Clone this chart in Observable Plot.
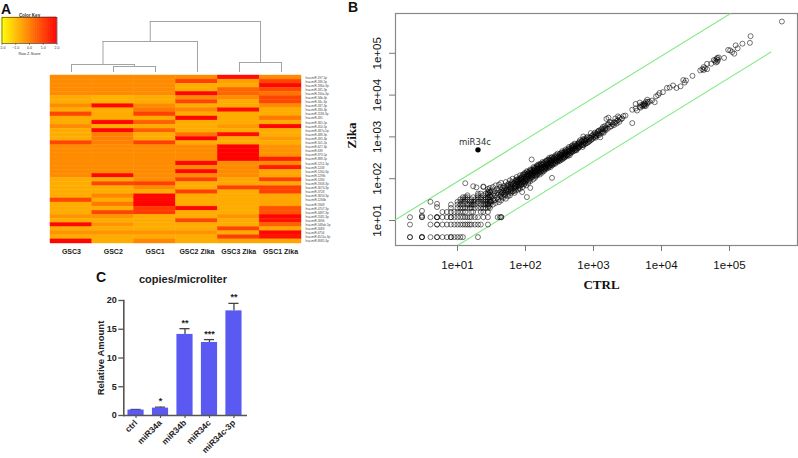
<!DOCTYPE html>
<html><head><meta charset="utf-8">
<script src="https://cdn.jsdelivr.net/npm/d3@7"></script>
<script src="https://cdn.jsdelivr.net/npm/@observablehq/plot@0.6"></script>
<style>
html,body{margin:0;padding:0;background:#fff;width:798px;height:458px;overflow:hidden}
#wrap{position:relative;width:798px;height:458px}
#wrap>svg{position:absolute;left:0;top:0;background:transparent}
.tag{position:absolute;font:bold 14px "Liberation Sans";color:#111;line-height:14px}
</style></head><body><div id="wrap"></div>
<script>
const SANS = "Liberation Sans", SERIF = "Liberation Serif";
const W = 798, H = 458;

// ---- Panel A: heatmap -------------------------------------------------
const columns = ["GSC3","GSC2","GSC1","GSC2 Zika","GSC3 Zika","GSC1 Zika"];
const rowNames = ["hsa-miR-197-5p","hsa-miR-186-5p","hsa-miR-186e-3p","hsa-miR-181-3p","hsa-miR-190a-3p","hsa-miR-34b-3p","hsa-miR-34c-3p","hsa-miR-337-3p","hsa-miR-330-3p","hsa-miR-1186-3p","hsa-miR-491","hsa-miR-365-5p","hsa-miR-450-5p","hsa-miR-487a-5p","hsa-miR-488-3p","hsa-miR-495-3p","hsa-miR-501-5p","hsa-miR-627-3p","hsa-miR-639","hsa-miR-873-5p","hsa-miR-888-5p","hsa-miR-1251-3p","hsa-miR-1248","hsa-miR-1260-3p","hsa-miR-1298c","hsa-miR-1284","hsa-miR-1908-3p","hsa-miR-3074-3p","hsa-miR-3728","hsa-miR-3653-3p","hsa-miR-1266b","hsa-miR-5908","hsa-miR-4707-3p","hsa-miR-4487-3p","hsa-miR-5581-3p","hsa-miR-5696","hsa-miR-548ah-5p","hsa-miR-5683","hsa-miR-6756","hsa-miR-6511a-3p","hsa-miR-8085-3p"];
// z-scores read per row, one list per column
const GSC3  = [-.2,-.2,-.2,-.2,-.2,-.7,-.7,-.2,-.7,.9,-.7,-.7,-.2,-.7,-.7,-.7,.9,-.2,-.2,-.2,-.2,-.2,-.2,-.2,-.2,-.7,-.7,-.7,-.7,-.7,.9,-.7,-.7,-.7,-.3,-.7,1.9,-.7,-.3,-.7,1.9];
const GSC2  = [-.2,-.2,-.2,-.2,-.2,-.8,-.8,1.9,-.7,-.7,-.7,1.9,-.7,1.9,0,0,0,-.2,-.2,-.2,-.2,-.2,-.2,-.2,1.9,-.7,.9,-.7,-.7,-.1,-.7,.1,-.7,.9,-.3,-.7,-.3,-.7,-.3,-.7,-.7];
const GSC1  = [-.2,-.2,-.2,-.2,-.2,-.7,-.7,-.2,.1,1,-.7,.5,-.7,.5,-.7,-.7,1,-.2,-.2,-.2,-.2,-.2,-.2,-.2,-.2,-.2,1,-.2,-.7,1.9,1.9,2,1.1,1.1,-.7,-.7,-.7,-.7,-.3,-.7,-.1];
const GSC2Z = [-.2,1,-.7,-.7,1.9,-.2,.9,-.7,-.1,-.7,1.9,-.7,-.7,-.7,.2,2,-.7,-.2,-.2,-.2,-.2,1.9,-.2,1.9,-.2,1,-.7,-.7,1,-.7,-.7,-.7,1.9,-.7,-.7,.9,-.7,-.7,-.3,-.7,-.7];
const GSC3Z = [1.8,-.5,-.7,.4,.4,-.2,-.7,-.7,1.8,-.7,-.7,-.7,-.4,-.7,1.8,-.7,-.7,2,2,2,2,-.2,-.2,-.2,-.2,-.6,-.6,1,-.7,-.7,-.7,-.7,-.7,-.7,-.3,-.7,-.7,.9,-.7,1,-.6];
const GSC1Z = [-.2,.9,1.9,.8,.2,.9,.9,-.2,-.7,-.7,.1,-.7,1.9,-.7,-.7,-.4,-.7,-.3,-.3,-.3,1.5,-.2,1.6,-.6,-.6,1,-.6,1,1,-.6,-.6,-.6,.7,.7,1.9,1.7,.5,-.6,1.9,1.7,-.6];
const heatColumns = [GSC3, GSC2, GSC1, GSC2Z, GSC3Z, GSC1Z];
const keyTicks = [-2,-1,0,1,2];
const keySteps = d3.range(-2, 2, 0.05);
// dendrogram merges: column spans, each child's height, joining height
const dendroLinks = [
  {a:1, b:2, left:0, right:0, h:6},
  {a:0, b:1.5, left:0, right:6, h:8},
  {a:0.75, b:3, left:8, right:0, h:31},
  {a:4, b:5, left:0, right:0, h:10},
  {a:1.875, b:4.5, left:31, right:10, h:51}
];

const heatRows = heatColumns.flatMap((vals, c) => vals.map((v, r) => ({col: columns[c], row: rowNames[r], v})));
const colorOpt = {type:"linear", domain:[-2,2], range:["#ffff00","#ff0000"]};

const panelA = Plot.plot({
  width:W, height:H, marginLeft:50, marginRight:W-301, marginTop:75, marginBottom:H-243,
  style:{background:"transparent"},
  x:{domain:columns, padding:0, round:false, label:null},
  y:{domain:rowNames, padding:0, round:false, label:null},
  color:colorOpt,
  marks:[
    Plot.cell(heatRows,{x:"col",y:"row",fill:"v",stroke:"v",strokeWidth:0.4}),
    Plot.axisX({anchor:"bottom",tickSize:0,tickPadding:6,fontSize:7,fontWeight:"bold",fontFamily:SANS,fill:"#222",label:null}),
    Plot.axisY({anchor:"right",tickSize:0,tickPadding:4,fontSize:3,fontFamily:SANS,fill:"#444",label:null})
  ]
});

const keyPlot = Plot.plot({
  width:W, height:H, marginLeft:1.5, marginRight:W-56.5, marginTop:17, marginBottom:H-43,
  style:{background:"transparent"},
  x:{domain:[-2,2], label:null},
  y:{axis:null},
  color:colorOpt,
  marks:[
    Plot.rectY(keySteps,{x1:d=>d,x2:d=>d+0.05,y1:0,y2:1,fill:d=>d,stroke:d=>d,strokeWidth:0.5}),
    Plot.frame({stroke:"#333",strokeWidth:0.6}),
    Plot.axisX({ticks:keyTicks,tickSize:2,tickPadding:1,fontSize:3.5,fontFamily:SANS,stroke:"#333",strokeWidth:.5,fill:"#333",label:null}),
    Plot.text(["Color Key"],{frameAnchor:"top",dy:-4,fontSize:4.5,fontWeight:"bold",fontFamily:SANS,fill:"#333"}),
    Plot.text(["Row Z-Score"],{frameAnchor:"bottom",dy:11,fontSize:3.8,fontFamily:SANS,fill:"#333"})
  ]
});

const dendro = Plot.plot({
  width:W, height:H, marginLeft:71, marginRight:W-281, marginTop:21, marginBottom:H-72,
  style:{background:"transparent"},
  x:{domain:[0,5], axis:null},
  y:{domain:[0,51], axis:null},
  marks:[
    Plot.ruleY(dendroLinks,{x1:"a",x2:"b",y:"h",stroke:"#9a9a9a",strokeWidth:0.9}),
    Plot.ruleX(dendroLinks,{x:"a",y1:"left",y2:"h",stroke:"#9a9a9a",strokeWidth:0.9}),
    Plot.ruleX(dendroLinks,{x:"b",y1:"right",y2:"h",stroke:"#9a9a9a",strokeWidth:0.9})
  ]
});

// ---- Panel B: scatter ---------------------------------------------------
// low-count detections, as raw [ctrl, zika] copies
const lowCounts = [[2,4],[2,4],[3,4],[3,4],[3,4],[4,4],[5,4],[5,4],[6,4],[7,4],[8,4],[8,4],[9,4],[10,4],[11,4],[12,4],[20,4],
 [2,8],[4,8],[5,8],[5,8],[6,8],[7,8],[8,8],[9,8],[10,8],[11,8],[12,8],[13,8],[14,8],[15,8],[16,8],[18,8],[20,8],[22,8],[28,8],
 [2,12],[3,12],[3,12],[4,12],[5,12],[5,12],[5,12],[6,12],[7,12],[8,12],[8,12],[9,12],[10,12],[11,12],[12,12],[13,12],[14,12],[15,12],[16,12],[18,12],[20,12],[24,12],[28,12],[39,12],[42,12],[44,12],[44,12],
 [3,17],[3,13],[4,28],[5,25],[5,21],[6,16],[7,16],[8,16],[8,20],[8,24],[9,16],[10,16],[10,20],[10,24],[10,28],
 [11,16],[11,20],[11,24],[11,28],[11,32],[12,16],[12,20],[12,24],[12,28],[12,32],[12,36],[13,16],[13,20],[13,28],[13,32],[13,36],[13,78],
 [14,20],[14,24],[14,32],[14,36],[14,40],[15,20],[15,24],[15,28],[16,16],[16,20],[16,24],[16,28],[16,32],[17,16],[17,24],[17,28],[17,36],[17,66],
 [18,20],[18,24],[18,28],[18,32],[19,62],[20,20],[20,28],[20,32],[20,36],[20,40],[20,44],[22,16],[22,20],[22,24],[22,28],[22,32],[22,36],[22,44],
 [24,16],[24,20],[24,24],[24,28],[24,32],[24,40],[24,65],[26,20],[26,24],[26,28],[26,32],[26,36],[26,44],[28,16],[28,20],[28,24],[28,28],[28,32],[28,36],[28,44],[28,48],[28,57],
 [30,20],[30,24],[30,28],[30,36],[30,40],[30,48]];
// main band: log10(ctrl) followed by the log10(zika) values found at it
const bandLog = [[1.38,[1.8]],[1.45,[1.40,1.55,1.62]],[1.475,[1.78]],[1.48,[1.50,1.44,1.68]],[1.50,[1.58,1.46,1.72]],[1.53,[1.52,1.65,1.47]],[1.55,[1.60,1.70,1.49]],[1.58,[1.55,1.66,1.76]],[1.60,[1.62,1.50,1.72]],[1.63,[1.58,1.68,1.80]],[1.65,[1.66,1.74,1.56]],[1.68,[1.72,1.62,1.82]],[1.70,[1.68,1.78,1.60]],[1.72,[1.75,1.84,1.66]],[1.75,[1.72,1.80,1.88,1.64]],[1.78,[1.76,1.85,1.70]],[1.80,[1.82,1.74,1.92]],[1.83,[1.88,1.78,1.70]],[1.85,[1.84,1.94,1.76]],[1.88,[1.90,1.82,1.98]],[1.90,[1.86,1.96,1.78]],[1.93,[1.92,2.02,1.84]],[1.95,[1.98,1.88,2.06,1.68]],[1.98,[1.94,2.04,1.86,2.10]],[2.00,[2.02,1.92,2.12]],[2.02,[1.56]],[2.03,[1.98,2.08,2.16]],[2.05,[2.06,1.96,2.14]],[2.07,[1.78]],[2.08,[2.10,2.02,2.20]],[2.09,[2.46]],[2.10,[2.12,2.04,2.22]],[2.13,[2.08,2.18,2.26]],[2.15,[2.16,2.06,2.24]],[2.18,[2.20,2.12,2.30]],[2.20,[2.14,2.24,2.32]],[2.23,[2.24,2.18,2.34]],[2.26,[2.28,2.20,2.38]],[2.28,[2.30,2.24]],[2.30,[2.26,2.36,2.42]],[2.33,[2.34,2.28,2.44]],[2.36,[2.38,2.32,2.46]],[2.38,[2.40,2.34,2.50]],[2.39,[2.02]],[2.40,[2.36,2.46]],[2.43,[2.44,2.38,2.52]],[2.46,[2.48,2.42,2.56]],[2.48,[2.52,2.44]],[2.50,[2.48,2.58,2.42]],[2.53,[2.54,2.48,2.62]],[2.56,[2.58,2.50]],[2.58,[2.60,2.66,2.52]],[2.60,[2.56,2.64]],[2.63,[2.66,2.58,2.72]],[2.66,[2.68,2.62]],[2.68,[2.72,2.66,2.78]],[2.70,[2.70,2.76]],[2.73,[2.74,2.82,2.68]],[2.76,[2.78,2.72]],[2.78,[2.80,2.85,2.74]],[2.82,[2.82,2.88]],[2.85,[2.86,3.01,2.80]],[2.88,[2.90,2.84]],[2.90,[2.92,2.98]],[2.93,[2.94,2.88]],[2.96,[2.98,3.09,2.92]],[3.00,[3.00,3.06]],[3.03,[3.04,2.98]],[3.06,[3.08,3.12]],[3.08,[3.15,3.04]],[3.10,[2.99,3.12]],[3.13,[3.14,3.20]],[3.15,[3.19,3.10]],[3.18,[3.22,3.16]],[3.19,[3.43]],[3.22,[3.46,3.30]],[3.26,[3.25,3.34]],[3.30,[3.35,3.28]],[3.34,[3.38,3.32]],[3.36,[3.49,3.40]],[3.40,[3.42]],[3.44,[3.50]],[3.47,[3.51]],
 [3.57,[3.33,3.65]],[3.62,[3.79,3.68]],[3.64,[3.63]],[3.68,[3.82,3.72]],[3.69,[3.70]],[3.72,[3.74]],[3.74,[3.76]],[3.76,[3.78]],[3.79,[3.89,3.80]],[3.82,[3.84]],[3.86,[3.87]],[3.90,[3.83]],[3.92,[3.97]],[3.95,[4.00]],[3.97,[4.05]],[4.02,[4.07]],[4.08,[4.17]],[4.12,[4.18]],[4.17,[4.23]],[4.22,[4.17]],[4.28,[4.21]],[4.32,[4.36]],[4.34,[4.30]],[4.36,[4.35]],[4.455,[4.46]],[4.57,[4.59]],[4.60,[4.62]],[4.62,[4.67,4.60]],[4.67,[4.75,4.62]],[4.73,[4.75]],[4.77,[4.84]],[4.80,[4.78]],[4.82,[4.89,4.80]],[4.84,[4.90]],[4.92,[4.89]],[4.98,[5.08]],[5.01,[5.07]],[5.04,[5.03]],[5.07,[4.99]],[5.09,[5.19]],[5.12,[5.12]],[5.19,[5.23]],[5.30,[5.25]],[5.31,[5.41]],[5.77,[5.76]]];
// further dense-core points of the band, same layout
const bandCore = [[1.46,[1.34,1.72]],[1.52,[1.38,1.80]],[1.56,[1.42,1.84]],[1.61,[1.44,1.86]],[1.64,[1.48,1.62,1.90]],[1.67,[1.54,1.68,1.78]],[1.71,[1.52,1.72,1.92]],[1.74,[1.58,1.70,1.84]],[1.77,[1.60,1.80,1.96]],[1.79,[1.66,1.78,1.88]],[1.81,[1.70,1.86,2.00]],[1.84,[1.66,1.82,1.90]],[1.86,[1.72,1.80,1.98]],[1.87,[1.86,1.94,2.04]],[1.89,[1.74,1.92,1.96]],[1.91,[1.82,1.90,2.00]],[1.92,[1.76,1.98,2.08]],[1.94,[1.86,1.96,2.02]],[1.96,[1.80,1.92,2.10]],[1.97,[1.90,2.00,2.06]],[1.99,[1.88,1.98,2.14]],[2.01,[1.84,1.96,2.06]],[2.02,[2.00,2.10,2.18]],[2.04,[1.90,2.04,2.12]],[2.06,[2.00,2.08,2.18]],[2.07,[1.94,2.12,2.22]],[2.09,[2.06,2.14,2.16]],[2.11,[1.98,2.08,2.18]],[2.12,[2.14,2.22,2.28]],[2.14,[2.02,2.12,2.20]],[2.16,[2.10,2.18,2.28]],[2.17,[2.08,2.24,2.32]],[2.19,[2.16,2.26,2.34]],[2.21,[2.10,2.20,2.28]],[2.22,[2.16,2.30,2.36]],[2.24,[2.14,2.22,2.32]],[2.25,[2.26,2.34,2.40]],[2.27,[2.18,2.24,2.36]],[2.29,[2.22,2.28,2.40]],[2.31,[2.24,2.32,2.44]],[2.32,[2.30,2.38]],[2.34,[2.26,2.36,2.46]],[2.35,[2.30,2.42,2.50]],[2.37,[2.28,2.36,2.44]],[2.39,[2.32,2.44,2.52]],[2.41,[2.34,2.42,2.50]],[2.42,[2.40,2.48]],[2.44,[2.36,2.46,2.56]],[2.45,[2.42,2.52]],[2.47,[2.40,2.50,2.60]],[2.49,[2.46,2.54]],[2.51,[2.44,2.52,2.60]],[2.52,[2.50,2.56]],[2.54,[2.46,2.58,2.66]],[2.55,[2.52,2.62]],[2.57,[2.50,2.56,2.64]],[2.59,[2.54,2.62,2.70]],[2.61,[2.58,2.68]],[2.62,[2.54,2.64]],[2.64,[2.60,2.70,2.76]],[2.65,[2.56,2.66]],[2.67,[2.62,2.74]],[2.69,[2.64,2.70,2.80]],[2.71,[2.66,2.78]],[2.72,[2.72,2.84]],[2.74,[2.70,2.78]],[2.75,[2.68,2.80]],[2.77,[2.74,2.84]],[2.79,[2.76,2.88]],[2.80,[2.78,2.84,2.92]],[2.83,[2.80,2.90]],[2.84,[2.76,2.94]],[2.86,[2.82,2.92]],[2.87,[2.88,2.96]],[2.89,[2.84,2.94]],[2.91,[2.86,3.00]],[2.94,[2.90,2.98]],[2.97,[2.94,3.02]],[2.99,[2.96,3.04]],[3.02,[3.00,3.10]],[3.04,[3.02,3.08]],[3.07,[3.06,3.14]],[3.11,[3.08,3.18]],[3.14,[3.12,3.24]],[3.17,[3.18,3.26]],[3.21,[3.20,3.30]],[3.24,[3.24,3.36]],[3.28,[3.30]],[3.32,[3.34,3.44]],[3.38,[3.36,3.46]],[3.42,[3.44]],[3.70,[3.76]],[3.73,[3.78]],[3.75,[3.80,3.74]],[3.77,[3.74,3.84]],[3.80,[3.84]],[4.64,[4.64]],[4.79,[4.82]],[4.81,[4.86]],[4.83,[4.84]]];
const highlight = [{ctrl:20, zika:490, name:"miR34c"}];
const decades = [10,100,1000,10000,100000];
const logRange = [0.088, 6, 0.402, 5.952];
const upperLog = [[0.088,1.02],[5.01,5.945]];
const lowerLog = [[1,0.40],[5.61,5.03]];

const scatter = [
  ...lowCounts.map(([ctrl,zika])=>({ctrl,zika})),
  ...bandLog.concat(bandCore).flatMap(([x,ys])=>ys.map(y=>({ctrl:10**x,zika:10**y})))
];
const fmtExp = v => "1e+" + String(Math.round(Math.log10(v))).padStart(2,"0");
const toXY = a => a.map(([x,y])=>({x:10**x,y:10**y}));

const panelB = Plot.plot({
  width:W, height:H, marginLeft:395, marginRight:1, marginTop:13, marginBottom:H-245,
  style:{background:"transparent"},
  x:{type:"log", domain:[10**logRange[0],10**logRange[1]], label:null},
  y:{type:"log", domain:[10**logRange[2],10**logRange[3]], label:null},
  marks:[
    Plot.frame({stroke:"#888",strokeWidth:1.2}),
    Plot.line(toXY(upperLog),{x:"x",y:"y",stroke:"#86ea86",strokeWidth:1.1}),
    Plot.line(toXY(lowerLog),{x:"x",y:"y",stroke:"#86ea86",strokeWidth:1.1}),
    Plot.dot(scatter,{x:"ctrl",y:"zika",r:2.5,stroke:"#000",strokeOpacity:0.6,strokeWidth:0.9,fill:"none"}),
    Plot.dot(highlight,{x:"ctrl",y:"zika",r:2.7,fill:"#000"}),
    Plot.text(highlight,{x:"ctrl",y:"zika",text:"name",dy:-8,dx:-3,fontSize:8.5,fontFamily:"DejaVu Sans",fill:"#333"}),
    Plot.axisX({ticks:decades,tickFormat:fmtExp,tickSize:6,tickPadding:9,stroke:"#777",fontSize:11.5,fontFamily:SANS,fill:"#111",label:null}),
    Plot.axisY({ticks:decades,tickFormat:fmtExp,tickSize:6,tickPadding:9,tickRotate:-90,stroke:"#777",fontSize:11.5,fontFamily:SANS,fill:"#111",label:null}),
    Plot.text(["CTRL"],{frameAnchor:"bottom",dy:43,dx:5,fontSize:13,fontWeight:"bold",fontFamily:SERIF,fill:"#111"}),
    Plot.text(["Zika"],{frameAnchor:"left",textAnchor:"middle",dx:-44,dy:6,rotate:-90,fontSize:13,fontWeight:"bold",fontFamily:SERIF,fill:"#111"})
  ]
});

// ---- Panel C: bars ------------------------------------------------------
const miRNAs = ["ctrl","miR34a","miR34b","miR34c","miR34c-3p"];
const amounts = [0.95,1.28,14.1,12.7,18.2];
const errTops = [1.05,1.45,15.1,13.2,19.5];
const stars = ["","*","**","***","**"];
const barTicks = [0,5,10,15,20];
const bars = miRNAs.map((m,i)=>({m,v:amounts[i],e:errTops[i],s:stars[i]}));

const panelC = Plot.plot({
  width:W, height:H, marginLeft:123.3, marginRight:W-245.7, marginTop:300, marginBottom:H-415,
  style:{background:"transparent"},
  x:{domain:miRNAs, paddingInner:0.34, paddingOuter:0.17, round:false, label:null},
  y:{domain:[0,20], label:null},
  marks:[
    Plot.ruleX(bars,{x:"m",y1:"v",y2:"e",stroke:"#444",strokeWidth:1.3}),
    Plot.tickY(bars,{x:"m",y:"e",stroke:"#444",strokeWidth:1.3,insetLeft:3,insetRight:3}),
    Plot.barY(bars,{x:"m",y:"v",fill:"#5a5af2"}),
    Plot.text(bars,{x:"m",y:"e",text:"s",dy:-3,lineAnchor:"bottom",fontSize:9,fontWeight:"bold",fontFamily:SANS,fill:"#222"}),
    Plot.axisY({ticks:barTicks,tickSize:5,tickPadding:2,stroke:"#555",strokeWidth:1.3,fontSize:9,fontWeight:"bold",fontFamily:SANS,fill:"#222",label:null}),
    Plot.axisX({tickSize:3,tickPadding:3,tickRotate:-45,stroke:"#555",strokeWidth:1.2,fontSize:8.5,fontWeight:"bold",fontFamily:SANS,fill:"#222",label:null}),
    Plot.frame({anchor:"left",stroke:"#555",strokeWidth:1.6}),
    Plot.frame({anchor:"bottom",stroke:"#555",strokeWidth:1.6}),
    Plot.text(["copies/microliter"],{frameAnchor:"top",dy:-25,dx:-2,fontSize:11,fontWeight:"bold",fontFamily:SANS,fill:"#222"}),
    Plot.text(["Relative Amount"],{frameAnchor:"left",textAnchor:"middle",dx:-23,rotate:-90,fontSize:9.5,fontWeight:"bold",fontFamily:SANS,fill:"#222"})
  ]
});

const wrap = document.getElementById("wrap");
[panelA,keyPlot,dendro,panelB,panelC].forEach(p=>wrap.appendChild(p));
[["A",1,2],["B",348,0],["C",96,270]].forEach(([t,l,top])=>{
  const d=document.createElement("div");d.className="tag";d.textContent=t;
  d.style.left=l+"px";d.style.top=top+"px";wrap.appendChild(d);
});
</script></body></html>
